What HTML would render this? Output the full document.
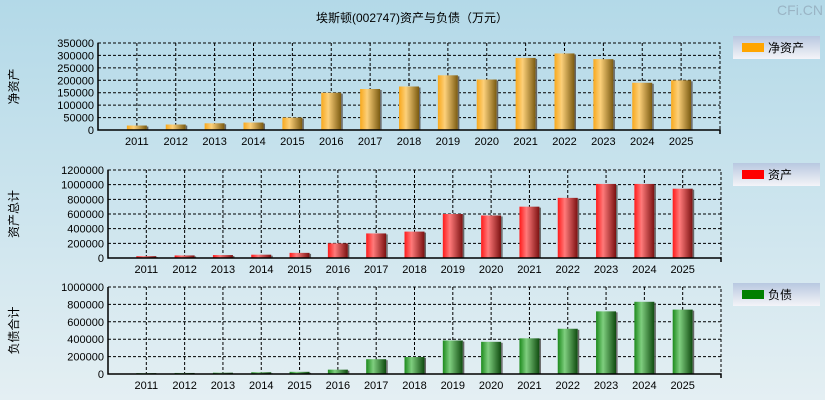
<!DOCTYPE html>
<html><head><meta charset="utf-8">
<style>
html,body{margin:0;width:825px;height:400px;overflow:hidden;}
body{background:linear-gradient(#b3d9e8,#e4eff3);font-family:"Liberation Sans","Noto Sans CJK SC",sans-serif;}
svg{display:block;}
svg text{font-family:"Liberation Sans","Noto Sans CJK SC",sans-serif;}
</style></head><body>
<svg id="c" width="825" height="400" xmlns="http://www.w3.org/2000/svg">
<defs>
<linearGradient id="go" x1="0" x2="1"><stop offset="0" stop-color="#f8a81c"/><stop offset="0.35" stop-color="#fcd07a"/><stop offset="1" stop-color="#7a5a10"/></linearGradient>
<linearGradient id="gr" x1="0" x2="1"><stop offset="0" stop-color="#ff1a1a"/><stop offset="0.35" stop-color="#ff7a7a"/><stop offset="1" stop-color="#7a1010"/></linearGradient>
<linearGradient id="gg" x1="0" x2="1"><stop offset="0" stop-color="#1c8a1c"/><stop offset="0.35" stop-color="#7fce7f"/><stop offset="1" stop-color="#0e4a0e"/></linearGradient>
<linearGradient id="lg" x1="0" x2="0" y1="0" y2="1"><stop offset="0" stop-color="#b8c8e0"/><stop offset="1" stop-color="#f4f4f8"/></linearGradient>
</defs>
<text x="412" y="22" text-anchor="middle" font-size="12">埃斯顿(002747)资产与负债（万元）</text>
<text x="800" y="15" text-anchor="middle" font-size="14" fill="#9ab4c4">CFi.CN</text>
</svg>
<script>
const categories=['2011','2012','2013','2014','2015','2016','2017','2018','2019','2020','2021','2022','2023','2024','2025'];
const netAssets=[18000,22000,27000,30000,50000,150000,165000,175000,220000,203000,290000,308000,285000,190000,200000];
const assets=[25000,35000,40000,45000,70000,200000,335000,360000,600000,580000,700000,820000,1010000,1010000,945000];
const liabilities=[10000,12000,15000,20000,25000,50000,170000,195000,385000,370000,410000,520000,720000,830000,740000];
const ticks1=[0,50000,100000,150000,200000,250000,300000,350000];
const ticks2=[0,200000,400000,600000,800000,1000000,1200000];
const ticks3=[0,200000,400000,600000,800000,1000000];
const svg=document.getElementById('c');
const NS='http://www.w3.org/2000/svg';
function mk(t,a,p){const e=document.createElementNS(NS,t);for(const k in a)e.setAttribute(k,a[k]);(p||svg).appendChild(e);return e;}
function panel(key,vals,ticks,L,R,T,B,grad,col,yTitle,legend,ly){
  const g=mk('g',{});
  
  
  const max=ticks[ticks.length-1];
  const y=v=>B-(v/max)*(B-T);
  const step=(R-L)/16;
  const x=i=>L+(i+1)*step;
  ticks.forEach(t=>{
    if(t>0){const l=mk('line',{x1:L,x2:R,y1:y(t),y2:y(t),stroke:'#000','stroke-dasharray':'3,2','stroke-width':1},g);
    }
    const tx=mk('text',{x:L-4,y:y(t)+4,'text-anchor':'end','font-size':11},g);tx.textContent=t;
    
  });
  categories.forEach((c,i)=>{
    const l=mk('line',{x1:x(i),x2:x(i),y1:T,y2:B,stroke:'#000','stroke-dasharray':'3,2'},g);
    
    const r=mk('rect',{x:x(i)-10,y:y(vals[i]),width:20,height:B-y(vals[i]),fill:'url(#'+grad+')'},g);
    
    const sh=mk('rect',{x:x(i)+10,y:y(vals[i])+1,width:1.5,height:Math.max(0,B-y(vals[i])-1),fill:'#666'},g);
    
    const tx=mk('text',{x:x(i),y:B+15,'text-anchor':'middle','font-size':11},g);tx.textContent=c;
    
  });
  const bt=mk('rect',{x:L,y:T,width:R-L,height:B-T,fill:'none',stroke:'#000','stroke-dasharray':'3,2'},g);
  
  const ax=mk('path',{d:`M${L},${T} V${B} H${R} V${B+4}`,stroke:'#000','stroke-width':1.5,fill:'none'},g);
  
  const yt=mk('text',{x:0,y:0,'text-anchor':'middle','font-size':12,transform:`translate(18,${(T+B)/2}) rotate(-90)`},g);
  yt.textContent=yTitle;
  const lg=mk('g',{},g);
  mk('rect',{x:733,y:ly,width:87,height:23,fill:'url(#lg)'},lg);
  mk('rect',{x:742,y:ly+7,width:22,height:9,fill:col},lg);
  const lt=mk('text',{x:768,y:ly+16,'font-size':12},lg);lt.textContent=legend;
}
panel('net-assets',netAssets,ticks1,98,720,43,130,'go','#ffa500','净资产','净资产',36);
panel('assets',assets,ticks2,108,721,170,258,'gr','#ff0000','资产总计','资产',163);
panel('liabilities',liabilities,ticks3,108,721,287,374,'gg','#008000','负债合计','负债',283);
</script>
</body></html>
